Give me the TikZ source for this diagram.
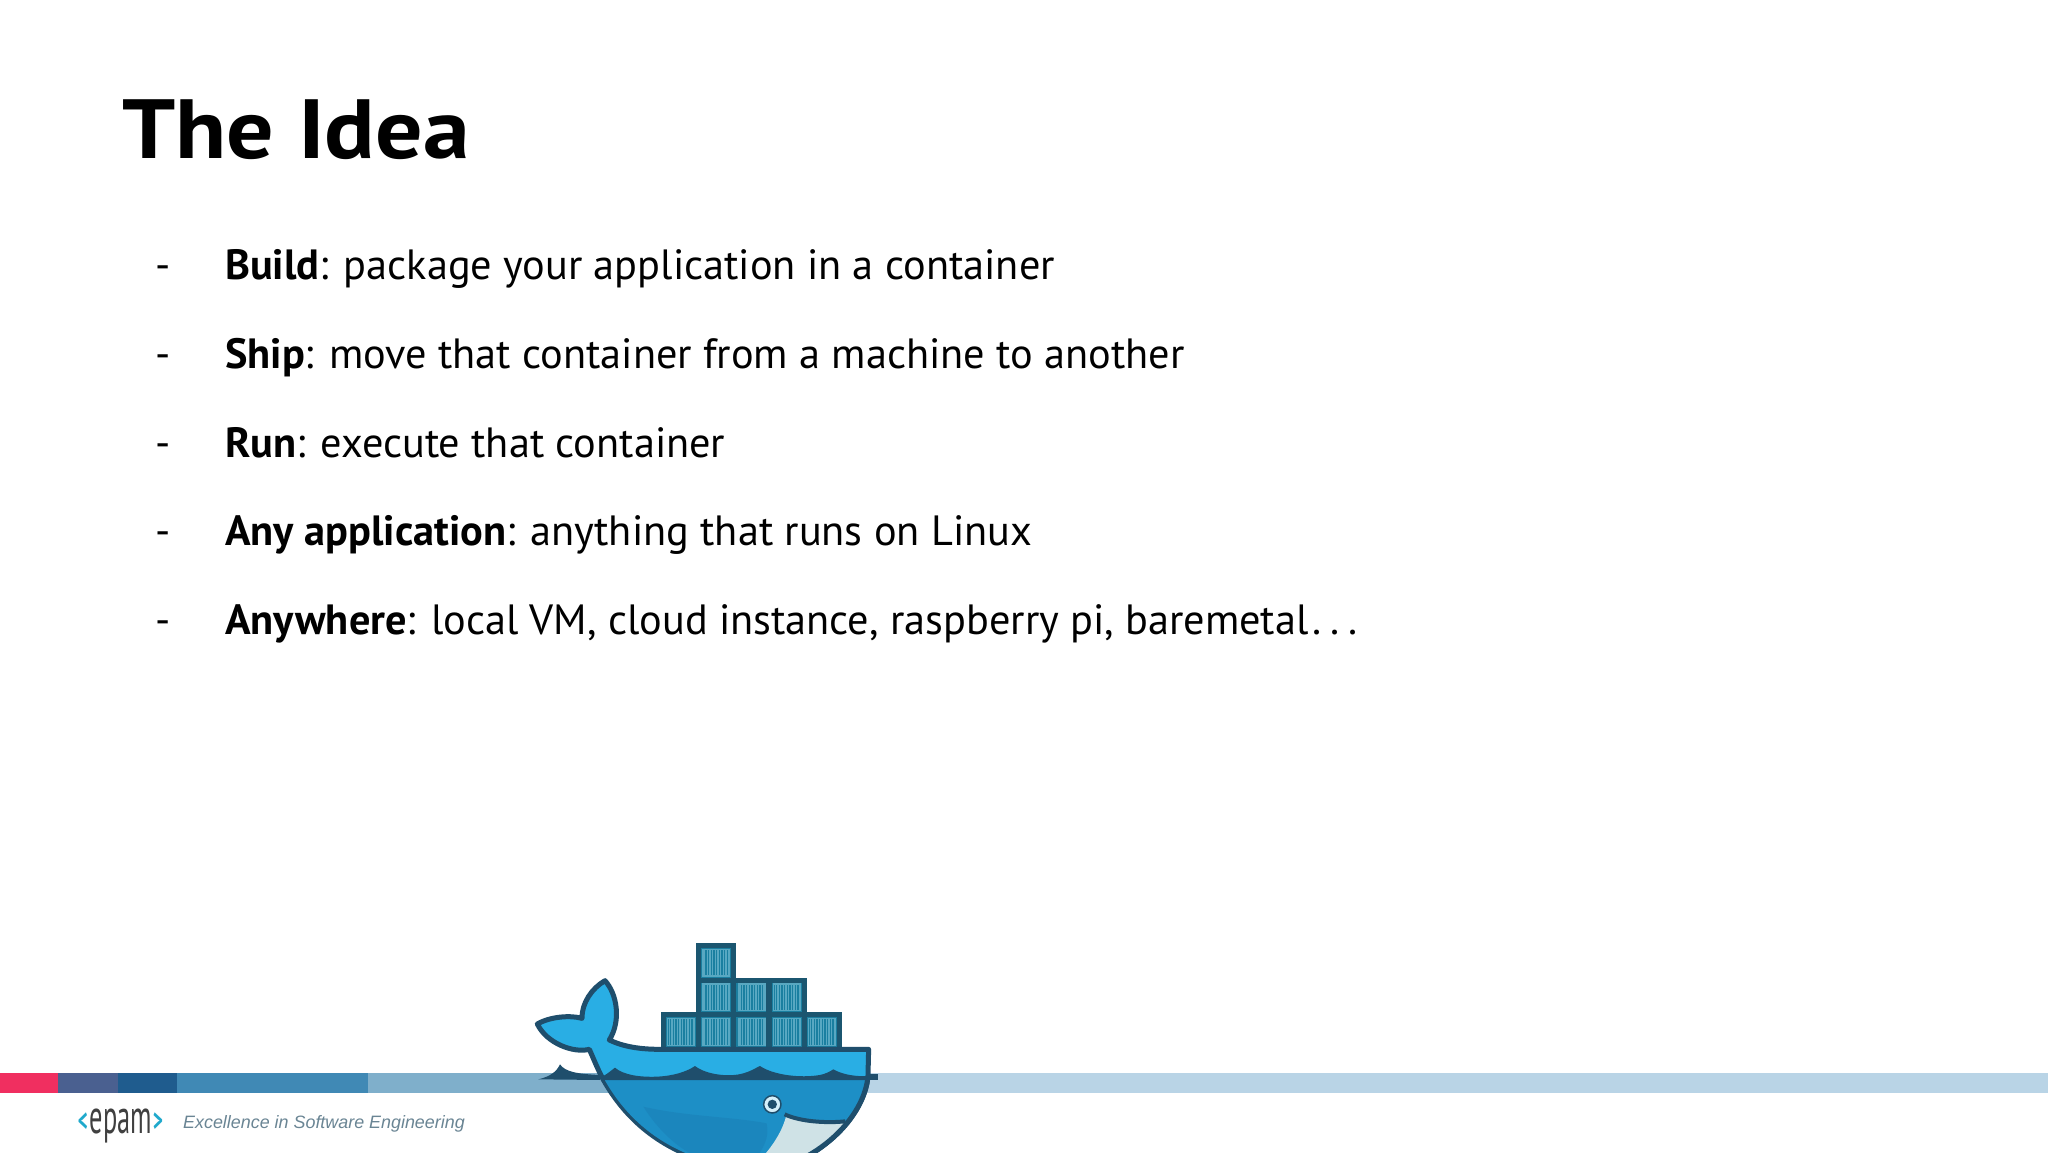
\documentclass[tikz,border=0pt]{standalone}
\usepackage{fontspec}
\setmainfont{PT Sans}
\newfontfamily\tagfont{Liberation Sans}
\definecolor{bandred}{HTML}{F02F60}
\definecolor{bandviolet}{HTML}{4A6090}
\definecolor{bandnavy}{HTML}{1F5C8E}
\definecolor{bandblue}{HTML}{4089B5}
\definecolor{bandsteel}{HTML}{7FAFCB}
\definecolor{bandpale}{HTML}{B9D4E6}
\definecolor{whaleline}{HTML}{1F4E6C}
\definecolor{whaleupper}{HTML}{29AEE4}
\definecolor{whalelower}{HTML}{1D8FC6}
\definecolor{whaleshade}{HTML}{1A7DB4}
\definecolor{whalebelly}{HTML}{CFE2E6}
\definecolor{boxline}{HTML}{1B5670}
\definecolor{boxfill}{HTML}{1A7FA0}
\definecolor{boxstripe}{HTML}{58A8C2}
\definecolor{logoteal}{HTML}{1FA9CC}
\definecolor{tagtext}{HTML}{6A8594}
\tikzset{
  heading/.style={anchor=base west,inner sep=0pt,xscale=1.118,font=\fontsize{84}{90}\selectfont\bfseries},
  itemtext/.style={anchor=base west,inner sep=0pt,font=\fontsize{42.3}{48}\selectfont},
  band/.style={minimum height=20pt,inner sep=0pt,outer sep=0pt,anchor=north west},
  whaleedge/.style={draw=whaleline,line width=5pt,line join=round},
  crate/.style={draw=boxline,fill=boxfill,line width=5pt}
}
\newcommand{\crate}[2]{% lower left corner, in zoom units
  \draw[crate] (#1,#2) rectangle ++(105,-104);
  \foreach \s in {18,26,...,90}
    \draw[boxstripe,line width=1.2pt] (#1+\s,#2-12) -- (#1+\s,#2-92);
  \draw[boxstripe,line width=1.2pt] (#1+13,#2-92) rectangle (#1+93,#2-12);
}
\begin{document}
\begin{tikzpicture}[x=1pt,y=-1pt]
  \useasboundingbox (0,0) rectangle (2048,1152);
  \clip (0,0) rectangle (2048,1152);
  \fill[white] (0,0) rectangle (2048,1152);

  % title and list
  \node[heading] (title) at (122,158) {The Idea};
  \node[itemtext] (dash1) at (155,279.5) {-};
  \node[itemtext] (build) at (225,279.5) {\textbf{Build}: package your application in a container};
  \node[itemtext] (dash2) at (155,368.5) {-};
  \node[itemtext] (ship) at (225,368.5) {\textbf{Ship}: move that container from a machine to another};
  \node[itemtext] (dash3) at (155,457.5) {-};
  \node[itemtext] (run) at (225,457.5) {\textbf{Run}: execute that container};
  \node[itemtext] (dash4) at (155,545.5) {-};
  \node[itemtext] (any) at (225,545.5) {\textbf{Any application}: anything that runs on Linux};
  \node[itemtext] (dash5) at (155,634.5) {-};
  \node[itemtext] (anywhere) at (225,634.5) {\textbf{Anywhere}: local VM, cloud instance, raspberry pi, baremetal\kern4pt.\kern9pt.\kern9pt.};

  % footer band
  \node[band,fill=bandred,minimum width=58pt] (b1) at (0,1073) {};
  \node[band,fill=bandviolet,minimum width=60pt] (b2) at (58,1073) {};
  \node[band,fill=bandnavy,minimum width=59pt] (b3) at (118,1073) {};
  \node[band,fill=bandblue,minimum width=191pt] (b4) at (177,1073) {};
  \node[band,fill=bandsteel,minimum width=272pt] (b5) at (368,1073) {};
  \node[band,fill=bandpale,minimum width=1408pt] (b6) at (640,1073) {};

  % logo
  \node[inner sep=0pt,xscale=0.6,text=logoteal,font=\fontsize{32}{32}\selectfont\bfseries] (open) at (83,1122) {<};
  \node[anchor=base,inner sep=0pt,xscale=0.55,text=black!75,font=\fontsize{48}{48}\selectfont] (epam) at (121,1133) {epam};
  \node[inner sep=0pt,xscale=0.6,text=logoteal,font=\fontsize{32}{32}\selectfont\bfseries] (close) at (158,1122) {>};
  \node[anchor=base west,inner sep=0pt,text=tagtext,font=\fontsize{17.9}{20}\tagfont\itshape] (tag) at (183,1128) {Excellence in Software Engineering};

  % whale, in zoom units
  \begin{scope}[shift={(500,920)},x=0.3333pt,y=-0.3333pt]
    \fill[whaleline] (115,478) .. controls (150,470) and (170,455) .. (180,433)
      .. controls (195,455) and (230,462) .. (300,465) -- (300,480) -- cycle;
    \fill[whaleline] (1100,461) rectangle (1133,480);
    \foreach \cx/\cy in {490/388,596/388,702/388,808/388,913/388,596/284,702/284,808/284,596/180}
      \crate{\cx}{\cy};
    \draw[whaleedge,fill=whaleupper] (328,360) .. controls (370,380) and (420,388) .. (480,388)
      -- (1106,388) -- (1104,470) .. controls (1095,560) and (1020,660) .. (900,720)
      -- (620,725) .. controls (470,680) and (370,590) .. (305,470)
      .. controls (290,440) and (278,410) .. (268,388)
      .. controls (220,400) and (140,370) .. (112,312)
      .. controls (150,290) and (210,285) .. (246,295)
      .. controls (245,250) and (275,205) .. (315,182)
      .. controls (350,220) and (365,300) .. (328,360) -- cycle;
    \fill[whalelower] (312,476) -- (1102,476) .. controls (1093,560) and (1018,658) .. (900,718)
      -- (620,722) .. controls (472,678) and (374,588) .. (312,476) -- cycle;
    \fill[whaleshade,opacity=0.45] (430,560) .. controls (560,590) and (700,590) .. (800,610)
      .. controls (810,650) and (790,690) .. (760,722) -- (620,722)
      .. controls (550,700) and (480,640) .. (430,560) -- cycle;
    \fill[whaleline] (310,468) .. controls (325,460) and (335,450) .. (345,443)
      .. controls (370,465) and (420,472) .. (470,470)
      .. controls (520,468) and (560,455) .. (585,438)
      .. controls (620,465) and (690,472) .. (730,460)
      .. controls (750,455) and (765,445) .. (780,438)
      .. controls (820,465) and (900,475) .. (960,465)
      .. controls (975,462) and (990,455) .. (1000,448)
      .. controls (1030,465) and (1070,470) .. (1102,468)
      -- (1102,480) -- (312,480) -- cycle;
    \fill[whalebelly] (770,730) .. controls (810,690) and (845,640) .. (858,590)
      .. controls (900,608) and (980,612) .. (1034,607)
      .. controls (1010,650) and (970,690) .. (920,716) -- (900,730) -- cycle;
    \draw[whaleedge,line width=4pt] (854,583) .. controls (900,605) and (980,610) .. (1036,604);
    \draw[whaleedge] (1104,470) .. controls (1095,560) and (1020,660) .. (900,720);
    \fill[white!80!whaleupper,draw=whaleline,line width=1.5pt] (817,553) circle (26);
    \fill[whaleline] (817,553) circle (14);
  \end{scope}
\end{tikzpicture}
\end{document}
